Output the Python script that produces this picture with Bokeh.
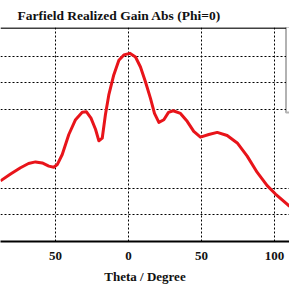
from bokeh.plotting import figure
from bokeh.models import FixedTicker, Span, BoxAnnotation, Range1d, Title
from bokeh.embed import file_html
from bokeh.resources import INLINE

theta = [-87.7, -80.8, -74.0, -68.5, -63.7, -59.1, -54.6, -51.2, -48.8, -45.4,
         -40.9, -36.3, -31.7, -28.8, -25.7, -22.6, -20.3, -18.0, -15.8, -13.5,
         -10.1, -6.6, -3.2, 0.9, 4.8, 8.2, 11.6, 15.1, 17.8, 20.8,
         24.2, 27.4, 30.6, 35.6, 40.2, 44.7, 49.3, 55.0, 60.8, 67.6,
         74.5, 81.3, 88.2, 95.0, 100.7, 109.8, 111.0]
gain = [-18.6, -17.3, -16.1, -15.3, -15.0, -15.2, -15.8, -16.0, -15.5, -13.6,
        -9.8, -7.0, -5.6, -5.5, -6.7, -8.8, -11.0, -10.5, -6.0, -2.3,
        1.5, 4.3, 5.3, 5.6, 4.9, 3.0, 0.2, -3.0, -5.8, -7.5,
        -7.0, -5.6, -5.3, -5.8, -7.3, -9.2, -10.3, -9.8, -9.4, -10.0,
        -11.4, -13.9, -17.0, -19.5, -21.1, -23.3, -23.5]

x_ticks = [-50, 0, 50, 100]
x_tick_labels = {-50: "50", 0: "0", 50: "50", 100: "100"}
y_grid = [5, 0, -5, -20, -25]

title_text = "Farfield Realized Gain Abs (Phi=0)"
x_title = "Theta / Degree"

p = figure(width=289, height=289, output_backend="svg", toolbar_location=None,
           x_range=Range1d(-87.7, 110.3), y_range=Range1d(-30.1, 10.5),
           min_border_left=0, min_border_right=0, min_border_top=25, min_border_bottom=48)
p.title = Title(text=title_text, align="left", offset=17,
                text_font="Liberation Serif", text_font_size="13.5px", text_font_style="bold",
                text_color="#111111")
p.outline_line_color = None
p.background_fill_color = "white"
p.border_fill_color = "white"

p.yaxis.visible = False
p.yaxis.ticker = FixedTicker(ticks=y_grid)
p.xaxis.ticker = FixedTicker(ticks=x_ticks)
p.xaxis.major_label_overrides = x_tick_labels
p.xaxis.axis_label = x_title
p.xaxis.axis_label_text_font = "Liberation Serif"
p.xaxis.axis_label_text_font_size = "13px"
p.xaxis.axis_label_text_font_style = "bold"
p.xaxis.axis_label_text_color = "#111111"
p.xaxis.axis_label_standoff = 6
p.xaxis.major_label_text_font = "Liberation Serif"
p.xaxis.major_label_text_font_size = "13px"
p.xaxis.major_label_text_font_style = "bold"
p.xaxis.major_label_text_color = "#111111"
p.xaxis.major_label_standoff = 4
p.xaxis.major_tick_line_color = None
p.xaxis.minor_tick_line_color = None
p.xaxis.axis_line_color = "black"
p.xaxis.axis_line_width = 2

for g in (p.xgrid, p.ygrid):
    g.grid_line_color = "black"
    g.grid_line_dash = "2 2"
    g.grid_line_width = 1
    g.grid_line_alpha = 1.0
p.ygrid.ticker = FixedTicker(ticks=y_grid)

top_line = Span(location=10.4, dimension="width", line_color="black", line_width=1.5)
p.add_layout(top_line)

p.line(theta, gain, line_color="#e8141a", line_width=3, line_join="round")

legend_box = BoxAnnotation(left=107.9, right=125, top=15, bottom=-5.64,
                           fill_color="white", fill_alpha=1.0,
                           line_color="black", line_width=2)
p.add_layout(legend_box)

open("out.html", "w").write(file_html(p, INLINE))
